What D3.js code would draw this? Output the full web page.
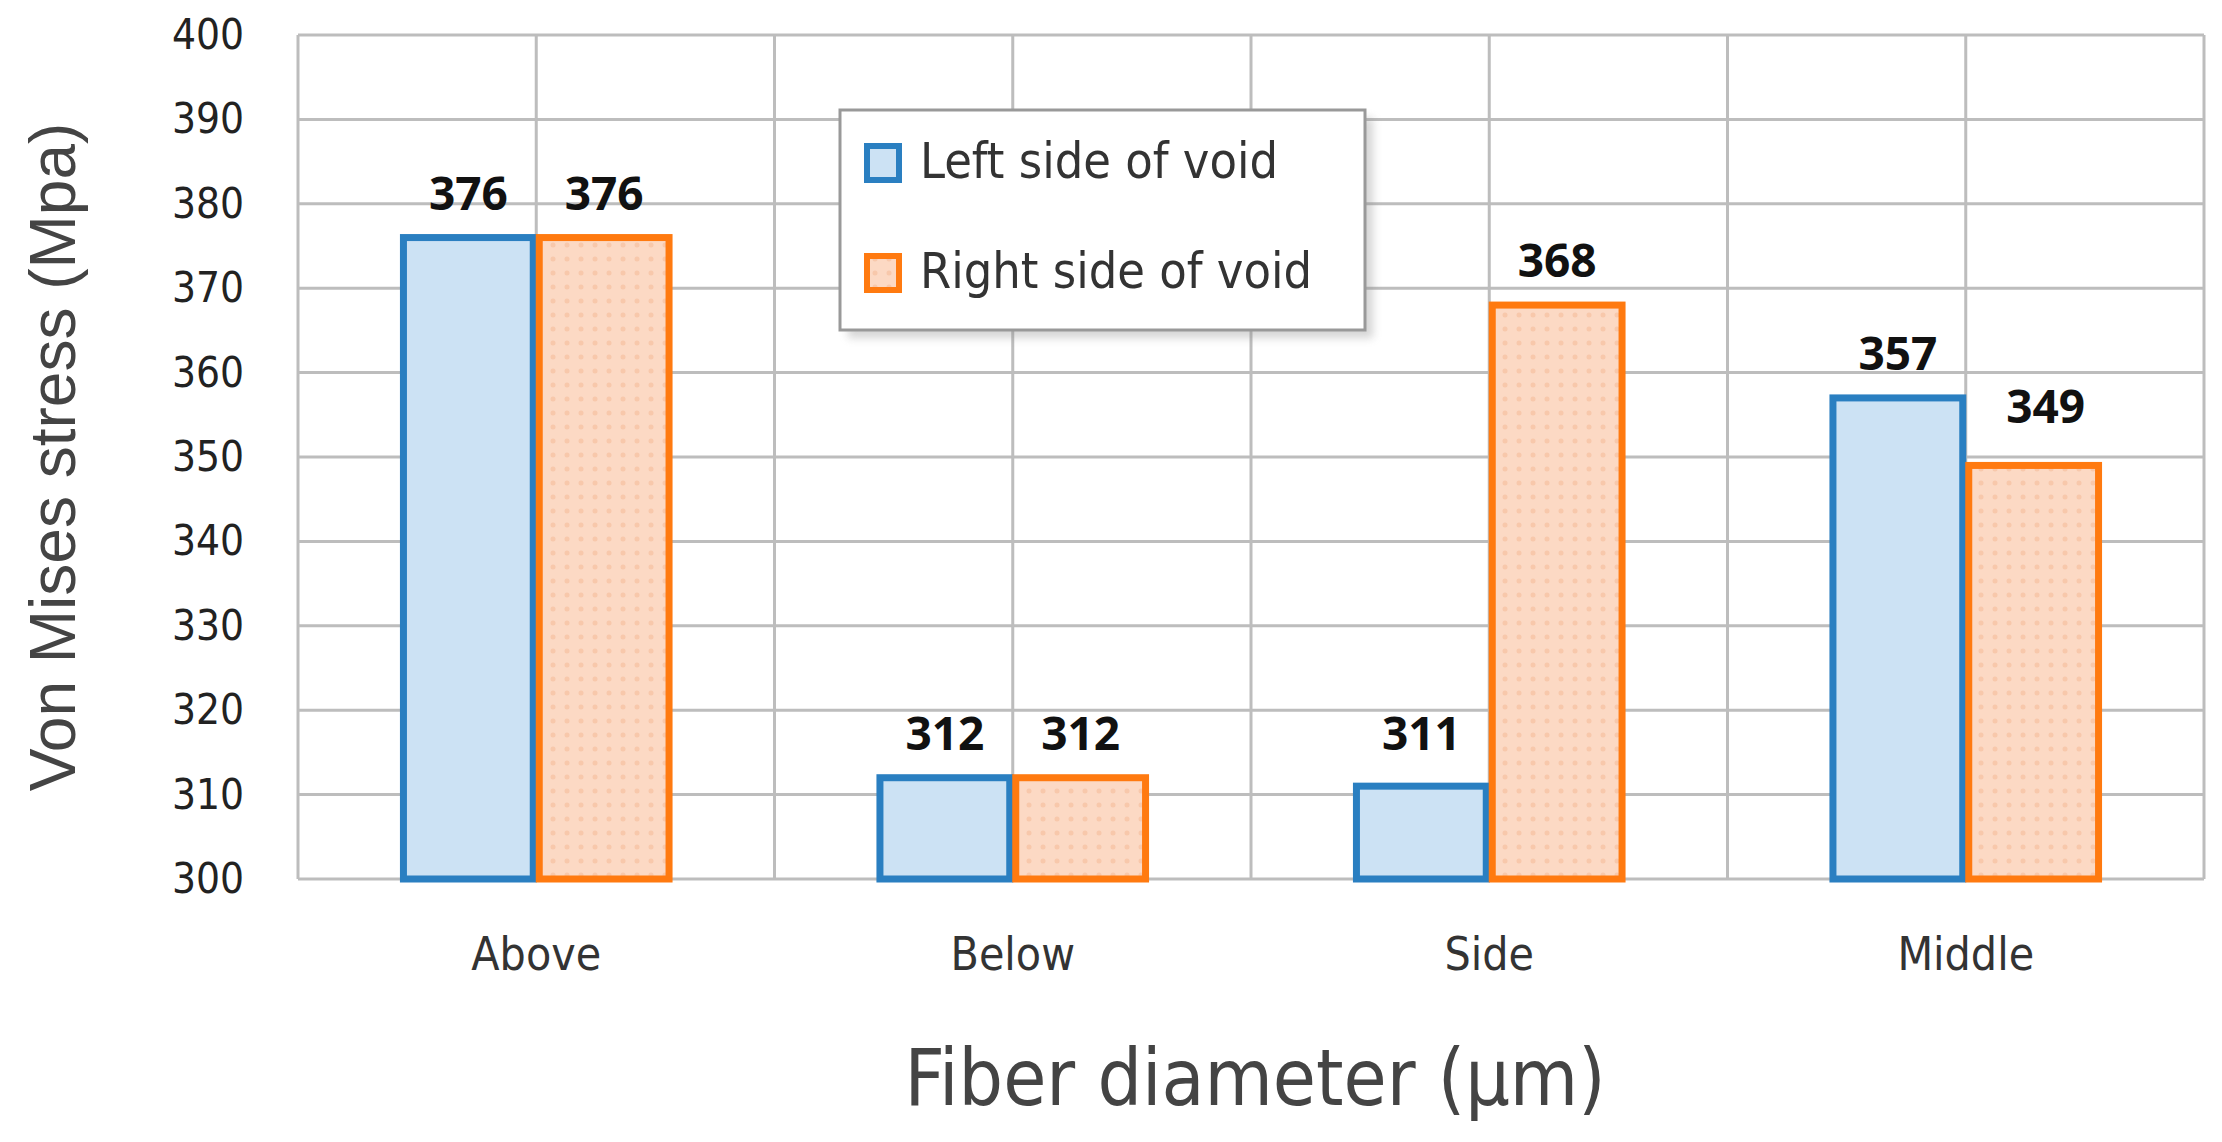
<!DOCTYPE html>
<html><head><meta charset="utf-8">
<script src="https://cdn.jsdelivr.net/npm/d3@7"></script>
<style>body{margin:0;background:#fff}</style>
</head><body>
<svg id="chart" width="2222" height="1142"></svg>
<script>
// data
const categories = ["Above", "Below", "Side", "Middle"];
const seriesNames = ["Left side of  void", "Right side of void"];
const leftVals = [376, 312, 311, 357];
const rightVals = [376, 312, 368, 349];
const yTicks = [300, 310, 320, 330, 340, 350, 360, 370, 380, 390, 400];

const narrow = "'Liberation Sans Narrow', 'Arial Narrow', 'DejaVu Sans Condensed', sans-serif";
const svg = d3.select("svg#chart");
const plotL = 298, plotR = 2204, plotT = 35, plotB = 879;

let x = d3.scaleBand().domain(categories).range([plotL, plotR]);
let y = d3.scaleLinear().domain([300, 400]).range([plotB, plotT]);

// pattern fill for right series
let defs = svg.append("defs");
let pat = defs.append("pattern").attr("id", "dots").attr("width", 14).attr("height", 14)
  .attr("patternUnits", "userSpaceOnUse");
pat.append("rect").attr("width", 14).attr("height", 14).attr("fill", "#fcd9c4");
pat.append("circle").attr("cx", 7).attr("cy", 7).attr("r", 2.5).attr("fill", "#f8c8ab");

// grid
yTicks.forEach(function(t) {
  svg.append("line").attr("x1", plotL).attr("x2", plotR).attr("y1", y(t)).attr("y2", y(t))
    .attr("stroke", "#bdbdbd").attr("stroke-width", 3);
});
for (let i = 0; i <= categories.length * 2; i++) {
  let gx = plotL + i * x.bandwidth() / 2;
  svg.append("line").attr("x1", gx).attr("x2", gx).attr("y1", plotT).attr("y2", plotB)
    .attr("stroke", "#bdbdbd").attr("stroke-width", 3);
}

// y tick labels
svg.append("g").selectAll("text").data(yTicks).join("text")
  .attr("x", 244).attr("y", d => y(d) + 14).attr("text-anchor", "end")
  .attr("font-family", narrow).attr("font-size", 42).attr("fill", "#222").text(d => d);

// bars
const barW = x.bandwidth() * 0.285;
const series = [
  {vals: leftVals, fill: "#cce2f4", stroke: "#2a7fc1", off: -barW},
  {vals: rightVals, fill: "url(#dots)", stroke: "#ff7a10", off: 0}
];
series.forEach(function(s) {
  categories.forEach(function(c, i) {
    let cx = x(c) + x.bandwidth() / 2 + s.off;
    svg.append("rect").attr("x", cx + 3).attr("y", y(s.vals[i]))
      .attr("width", barW - 6).attr("height", plotB - y(s.vals[i]))
      .attr("fill", s.fill).attr("stroke", s.stroke).attr("stroke-width", 7);
  });
});
// value labels
series.forEach(function(s) {
  categories.forEach(function(c, i) {
    let cx = x(c) + x.bandwidth() / 2 + s.off + barW / 2;
    let dy = -28;
    if (c == "Middle" && s.off == 0) { dy = -42; cx += 12; }
    if (c == "Side" && s.off < 0) { dy = -36; }
    svg.append("text").attr("x", cx).attr("y", y(s.vals[i]) + dy)
      .attr("text-anchor", "middle").attr("font-family", "'Open Sans', sans-serif")
      .attr("font-weight", "bold").attr("font-size", 46).attr("fill", "#111").text(s.vals[i]);
  });
});

// category labels
svg.append("g").selectAll("text").data(categories).join("text")
  .attr("x", d => x(d) + x.bandwidth() / 2).attr("y", 970).attr("text-anchor", "middle")
  .attr("font-family", narrow).attr("font-size", 46).attr("fill", "#333").text(d => d);

// axis titles
svg.append("text").attr("x", 1255).attr("y", 1105).attr("text-anchor", "middle")
  .attr("font-family", narrow).attr("font-size", 78).attr("fill", "#444").text("Fiber diameter  (µm)");
svg.append("text").attr("transform", "translate(75," + ((plotT + plotB) / 2) + ") rotate(-90)")
  .attr("text-anchor", "middle").attr("font-family", "'Liberation Sans', Arial, sans-serif")
  .attr("font-size", 64).attr("fill", "#444").text("Von Mises  stress  (Mpa)");

// legend
let lg = svg.append("g");
lg.append("rect").attr("x", 848).attr("y", 118).attr("width", 525).attr("height", 220)
  .attr("fill", "#888").attr("opacity", 0.35).attr("filter", "blur(4px)");
lg.append("rect").attr("x", 840).attr("y", 110).attr("width", 525).attr("height", 220)
  .attr("fill", "#fff").attr("stroke", "#999").attr("stroke-width", 3);
[series[0], series[1]].forEach(function(s, i) {
  let ly = 162 + i * 110;
  lg.append("rect").attr("x", 867).attr("y", ly - 16).attr("width", 32).attr("height", 34)
    .attr("fill", s.fill).attr("stroke", s.stroke).attr("stroke-width", 6);
  lg.append("text").attr("x", 920).attr("y", ly + 16).attr("font-family", narrow)
    .attr("font-size", 50).attr("fill", "#333").text(seriesNames[i]);
});
</script>
</body></html>
